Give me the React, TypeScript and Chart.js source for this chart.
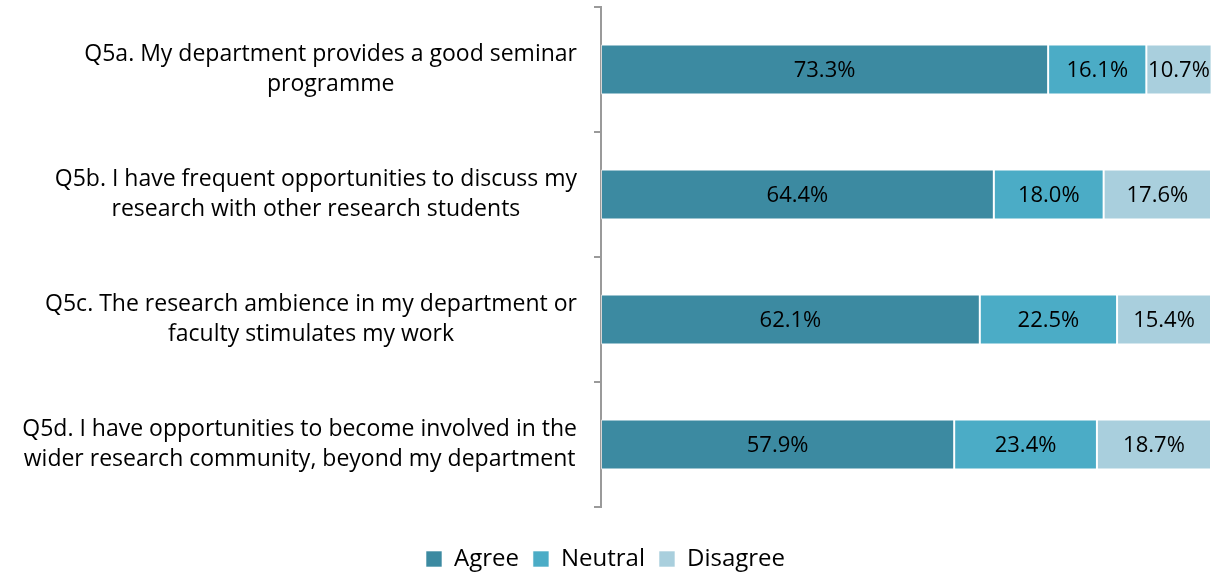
import React, { useEffect, useRef } from 'react';
import { Chart, registerables } from 'chart.js';

Chart.register(...registerables);

const categories: string[][] = [
  ['Q5a. My department provides a good seminar', 'programme'],
  ['Q5b. I have frequent opportunities to discuss my', 'research with other research students'],
  ['Q5c. The research ambience in my department or', 'faculty stimulates my work'],
  ['Q5d. I have opportunities to become involved in the', 'wider research community, beyond my department'],
];
const seriesNames = ['Agree', 'Neutral', 'Disagree'];
const agree = [73.3, 64.4, 62.1, 57.9];
const neutral = [16.1, 18.0, 22.5, 23.4];
const disagree = [10.7, 17.6, 15.4, 18.7];
const seriesColors = ['#3C8AA1', '#4BACC6', '#A9CFDD'];

const FONT = '"Open Sans", Lato, sans-serif';

const categoryLabelPlugin = {
  id: 'categoryLabels',
  afterDraw(chart: any) {
    const ctx = chart.ctx;
    const yScale = chart.scales.y;
    ctx.save();
    ctx.font = `23px ${FONT}`;
    ctx.fillStyle = '#000';
    ctx.textAlign = 'center';
    ctx.textBaseline = 'middle';
    const rightEdge = yScale.right - 24;
    const lineGap = 30;
    categories.forEach((lines, i) => {
      const y = yScale.getPixelForValue(i);
      const maxW = Math.max(...lines.map((l) => ctx.measureText(l).width));
      const cx = rightEdge - maxW / 2;
      lines.forEach((line, j) => {
        ctx.fillText(line, cx, y + (j - (lines.length - 1) / 2) * lineGap);
      });
    });
    ctx.restore();
  },
};

const valueLabelPlugin = {
  id: 'valueLabels',
  afterDatasetsDraw(chart: any) {
    const ctx = chart.ctx;
    ctx.save();
    ctx.font = `22px ${FONT}`;
    ctx.fillStyle = '#000';
    ctx.textAlign = 'center';
    ctx.textBaseline = 'middle';
    chart.data.datasets.forEach((ds: any, di: number) => {
      const meta = chart.getDatasetMeta(di);
      meta.data.forEach((bar: any, i: number) => {
        const v = ds.data[i];
        const cx = (bar.x + bar.base) / 2;
        ctx.fillText(v.toFixed(1) + '%', cx, bar.y + 1);
      });
    });
    ctx.restore();
  },
};

export default function App() {
  const canvasRef = useRef<HTMLCanvasElement | null>(null);

  useEffect(() => {
    document.body.style.margin = '0';
    const canvas = canvasRef.current;
    if (!canvas) return;
    const seriesData = [agree, neutral, disagree];
    const chart = new Chart(canvas, {
      type: 'bar',
      data: {
        labels: categories.map((c) => c.join(' ')),
        datasets: seriesNames.map((name, k) => ({
          label: name,
          data: seriesData[k],
          backgroundColor: seriesColors[k],
          borderColor: 'rgba(255,255,255,0.6)',
          borderWidth: 1,
          borderSkipped: false,
          categoryPercentage: 1,
          barPercentage: 0.4,
        })),
      },
      options: {
        indexAxis: 'y',
        animation: false,
        responsive: false,
        maintainAspectRatio: false,
        layout: { padding: { top: 7, right: 4, left: 0, bottom: -8 } },
        scales: {
          x: {
            stacked: true,
            min: 0,
            max: 100,
            display: true,
            ticks: { display: false },
            grid: { display: false },
            border: { display: false },
            afterFit(scale: any) {
              scale.height = 26;
            },
          },
          y: {
            stacked: true,
            ticks: { display: false },
            grid: {
              drawOnChartArea: false,
              drawTicks: true,
              tickLength: 7,
              offset: true,
              color: '#9a9a9a',
              lineWidth: 2,
            },
            border: { display: true, color: '#9a9a9a', width: 2 },
            afterFit(scale: any) {
              scale.width = 601;
            },
          },
        },
        plugins: {
          tooltip: { enabled: false },
          legend: {
            position: 'bottom',
            labels: {
              font: { family: FONT, size: 24 },
              color: '#000',
              boxWidth: 16,
              boxHeight: 16,
              padding: 14,
            },
          },
        },
      },
      plugins: [valueLabelPlugin, categoryLabelPlugin],
    });
    return () => chart.destroy();
  }, []);

  return (
    <div style={{ position: 'absolute', left: 0, top: 0, width: 1215, height: 573, overflow: 'hidden' }}>
      <canvas ref={canvasRef} width={1215} height={573} style={{ width: 1215, height: 573 }} />
    </div>
  );
}
